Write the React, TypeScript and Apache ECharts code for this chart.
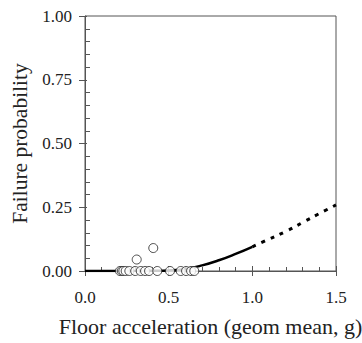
import React, { useEffect, useRef } from "react";
import * as echarts from "echarts";

const obsAtZeroX = [0.209, 0.22, 0.229, 0.243, 0.265, 0.3, 0.333, 0.359, 0.383, 0.432, 0.508, 0.572, 0.604, 0.634, 0.653];
const obsFailX = [0.309, 0.408];
const obsFailY = [0.045, 0.09];
const solidX = [0, 0.3, 0.4, 0.5, 0.6, 0.7, 0.8, 0.9, 1.0];
const solidY = [0, 0, 0.0005, 0.002, 0.008, 0.022, 0.042, 0.067, 0.095];
const dashX = [1.0, 1.1, 1.2, 1.3, 1.4, 1.5];
const dashY = [0.095, 0.125, 0.155, 0.19, 0.225, 0.259];
const xTicks = ["0.0", "0.5", "1.0", "1.5"];
const yTicks = ["0.00", "0.25", "0.50", "0.75", "1.00"];

const FONT = "'Liberation Serif', 'DejaVu Serif', serif";
const AXIS = "#555";

export default function App() {
  const ref = useRef<HTMLDivElement>(null);
  useEffect(() => {
    const chart = echarts.init(ref.current!, null, { renderer: "svg" });
    const pts = [
      ...obsAtZeroX.map((x) => [x, 0]),
      ...obsFailX.map((x, i) => [x, obsFailY[i]]),
    ];
    const common = { min: 0, type: "value" as const };
    chart.setOption({
      animation: false,
      textStyle: { fontFamily: FONT },
      grid: {
        left: 85, right: 26, top: 16, bottom: 72,
        show: true, borderColor: AXIS, borderWidth: 1,
        containLabel: false, outerBoundsMode: "none",
      },
      xAxis: [
        {
          ...common,
          max: 1.5,
          interval: 0.5,
          position: "bottom",
          axisLine: { lineStyle: { color: AXIS, width: 1 } },
          axisTick: { show: true, inside: false, length: 5, lineStyle: { color: AXIS } },
          minorTick: { show: false },
          splitLine: { show: false },
          axisLabel: {
            margin: 18,
            fontFamily: FONT,
            fontSize: 17,
            color: "#222",
            formatter: (v: number) => xTicks[Math.round(v / 0.5)] ?? "",
          },
          name: "Floor acceleration (geom mean, g)",
          nameLocation: "middle",
          nameGap: 44,
          nameTextStyle: { fontFamily: FONT, fontSize: 22, color: "#222" },
        },
        {
          ...common,
          max: 1.5,
          interval: 0.5,
          position: "bottom",
          axisLine: { show: false },
          axisTick: { show: true, inside: true, length: 5, lineStyle: { color: AXIS } },
          minorTick: { show: true, splitNumber: 5, length: 4, lineStyle: { color: AXIS } },
          splitLine: { show: false },
          axisLabel: { show: false },
        },
      ],
      yAxis: [
        {
          ...common,
          max: 1,
          interval: 0.25,
          position: "left",
          axisLine: { show: true, lineStyle: { color: AXIS, width: 1 } },
          axisTick: { show: true, inside: false, length: 6, lineStyle: { color: AXIS } },
          splitLine: { show: false },
          axisLabel: {
            margin: 13,
            fontFamily: FONT,
            fontSize: 17,
            color: "#222",
            formatter: (v: number) => yTicks[Math.round(v / 0.25)] ?? "",
          },
          name: "Failure probability",
          nameLocation: "middle",
          nameGap: 52,
          nameTextStyle: { fontFamily: FONT, fontSize: 21.5, color: "#222" },
        },
        {
          ...common,
          max: 1,
          interval: 0.25,
          position: "left",
          axisLine: { show: false },
          axisTick: { show: true, inside: true, length: 2, lineStyle: { color: AXIS } },
          minorTick: { show: true, splitNumber: 5, length: 5, lineStyle: { color: AXIS } },
          splitLine: { show: false },
          axisLabel: { show: false },
        },
      ],
      series: [
        {
          type: "line",
          data: solidX.map((x, i) => [x, solidY[i]]),
          smooth: true,
          showSymbol: false,
          lineStyle: { color: "#000", width: 2.5 },
          z: 2,
        },
        {
          type: "line",
          data: dashX.map((x, i) => [x, dashY[i]]),
          smooth: true,
          showSymbol: false,
          lineStyle: { color: "#000", width: 3, type: [4, 6] },
          z: 2,
        },
        {
          type: "scatter",
          data: pts,
          symbol: "circle",
          symbolSize: 9,
          itemStyle: { color: "#fff", borderColor: "#222", borderWidth: 1 },
          z: 3,
        },
      ],
    });
    return () => chart.dispose();
  }, []);
  return <div ref={ref} style={{ width: 362, height: 343, position: "absolute", left: 0, top: 0 }} />;
}
